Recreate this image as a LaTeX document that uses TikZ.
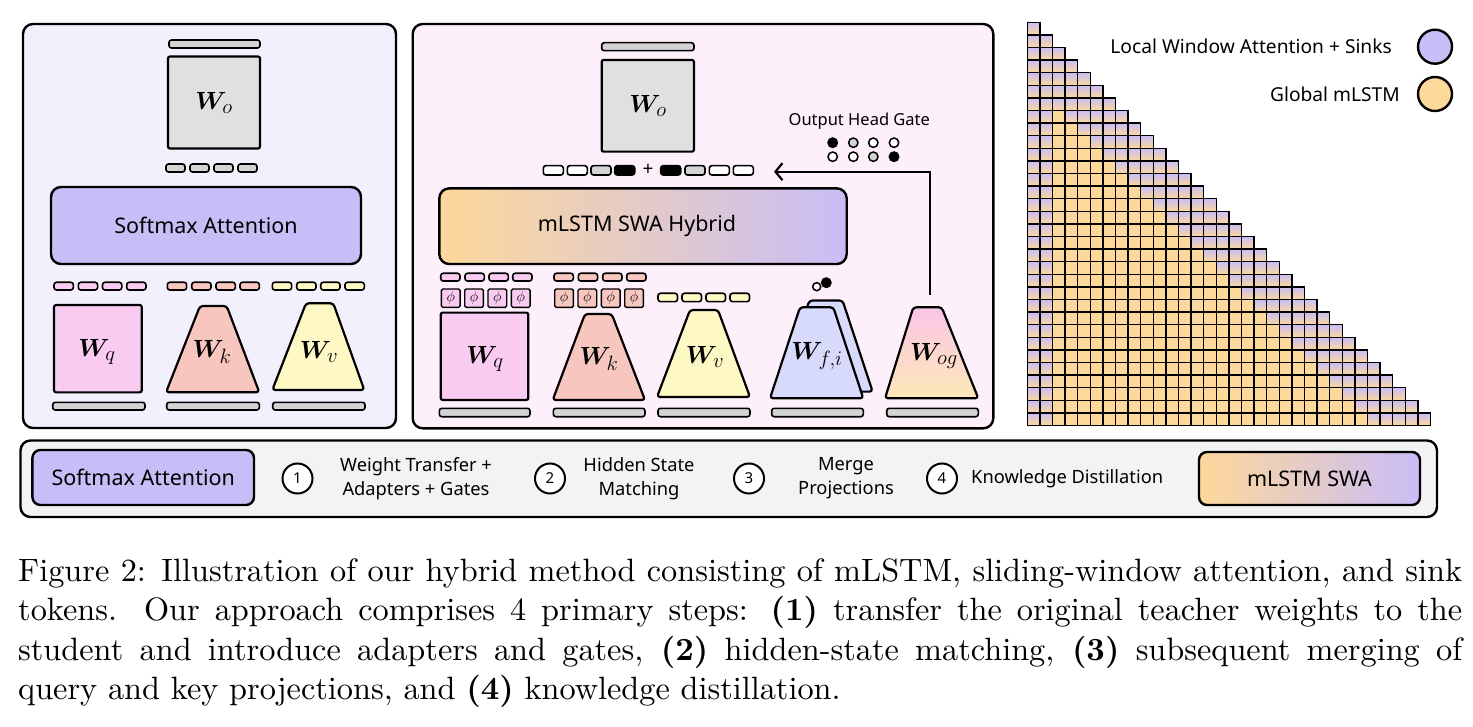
\documentclass[tikz,border=0pt]{standalone}
\usepackage{fontspec}
\usepackage{bm}
\usetikzlibrary{arrows.meta}
\newfontfamily\dsans{Noto Sans}
\newfontfamily\capfont{lmroman10-regular.otf}[BoldFont=lmroman10-bold.otf]
\definecolor{cpurple}{HTML}{C9BDF7}
\definecolor{corange}{HTML}{FDD89B}
\definecolor{cpink}{HTML}{F9CBF0}
\definecolor{csalmon}{HTML}{F7C6BE}
\definecolor{cyellow}{HTML}{FDF8C4}
\definecolor{cbar}{HTML}{D3D3D3}
\definecolor{cwo}{HTML}{E0E0E0}
\definecolor{cblue}{HTML}{D8DAFB}
\definecolor{cpanelL}{HTML}{F2F0FC}
\definecolor{cpanelM}{HTML}{FDF0FA}
\definecolor{cbottom}{HTML}{F3F3F3}
\definecolor{cogtop}{HTML}{FAC5E7}
\definecolor{cogbot}{HTML}{FDE8B7}
\newcommand{\trap}[7]{\draw[shp,#7] (#1,#3) -- (#2,#3) -- (#5,#6) -- (#4,#6) -- cycle;}
\begin{document}
\begin{tikzpicture}[x=1pt,y=-1pt,
  bar/.style={draw=black, line width=1.6pt, rounded corners=2.5pt},
  shp/.style={draw=black, line width=2.2pt, rounded corners=3pt, line join=round},
  panel/.style={draw=black, line width=2.4pt, rounded corners=10pt},
  cell/.style={draw=black, line width=1.5pt},
  wbox/.style={draw=black, line width=2.2pt, rounded corners=2pt, inner sep=0pt},
  lbl/.style={font=\dsans\fontsize{21.5}{26}\selectfont, inner sep=0pt},
  slbl/.style={font=\dsans\fontsize{18.3}{24}\selectfont, inner sep=0pt, align=center},
  wl/.style={font=\fontsize{24.88}{30}\selectfont, inner sep=0pt},
  phib/.style={draw=black, line width=1.4pt, rounded corners=1.5pt, inner sep=0pt, minimum width=18.7pt, minimum height=18.4pt, font=\fontsize{14}{16}\selectfont},
  num/.style={circle, draw=black, line width=2pt, fill=white, minimum size=30pt, inner sep=0pt, font=\dsans\bfseries\fontsize{15}{18}\selectfont},
  dot/.style={circle, draw=black, line width=1.5pt, minimum size=9.4pt, inner sep=0pt},
  captxt/.style={font=\capfont\fontsize{32.3}{39.5}\selectfont, inner sep=0pt, anchor=base west}
]
\path[use as bounding box] (0,0) rectangle (1473,727);

% ---------------- left panel ----------------
\draw[panel, fill=cpanelL] (23,24) rectangle (396,428);
\draw[bar, fill=cbar] (169,40) rectangle (260,48);
\node[wbox, fill=cwo, minimum width=92pt, minimum height=92pt] (woL) at (214,102.5) {};
\node[wl] (woLl) at (214,103) {$\bm{W}_{o}$};
\foreach \x in {166,190,214,238} \draw[bar, fill=cbar] (\x,164) rectangle ++(19,8);
\node[draw=black, line width=2.4pt, rounded corners=10pt, fill=cpurple, minimum width=310pt, minimum height=77pt, lbl] (saL) at (206,225.5) {Softmax Attention};
\foreach \x in {54,78.3,102.5,126.7} \draw[bar, fill=cpink] (\x,282.3) rectangle ++(19.3,7.7);
\foreach \x in {167.3,191.7,216,240} \draw[bar, fill=csalmon] (\x,282.3) rectangle ++(19.3,7.7);
\foreach \x in {272.3,296.7,320.7,345} \draw[bar, fill=cyellow] (\x,282.3) rectangle ++(19.3,7.7);
\node[wbox, fill=cpink, minimum width=87.7pt, minimum height=87.3pt] (wqL) at (97.9,348.7) {};
\trap{166}{259.3}{392.3}{200}{226.7}{306}{fill=csalmon}
\trap{272.3}{364.3}{390}{306}{333.3}{303.3}{fill=cyellow}
\node[wl] (wqLl) at (97,352) {$\bm{W}_{q}$};
\node[wl] (wkLl) at (212,352) {$\bm{W}_{k}$};
\node[wl] (wvLl) at (319,352) {$\bm{W}_{v}$};
\draw[bar, fill=cbar] (52.7,402.3) rectangle (145,410);
\draw[bar, fill=cbar] (166.7,402.3) rectangle (259.3,410);
\draw[bar, fill=cbar] (272.7,402.3) rectangle (365,410);

% ---------------- middle panel ----------------
\draw[panel, fill=cpanelM] (412.7,24) rectangle (993.3,428.3);
\draw[bar, fill=cbar] (601.7,42.7) rectangle (694,50.7);
\node[wbox, fill=cwo, minimum width=92.3pt, minimum height=91.7pt] (woM) at (647.8,105.8) {};
\node[wl] (woMl) at (648,106) {$\bm{W}_{o}$};
\draw[bar, fill=white] (543.3,165.7) rectangle ++(20,9.3);
\draw[bar, fill=white] (567.3,165.7) rectangle ++(20,9.3);
\draw[bar, fill=cbar] (591,165.7) rectangle ++(20,9.3);
\draw[bar, fill=black] (614.7,165.7) rectangle ++(20,9.3);
\node[font=\dsans\bfseries\fontsize{19}{20}\selectfont, inner sep=0pt] (plus) at (648,170.3) {+};
\draw[bar, fill=black] (660.7,165.7) rectangle ++(20,9.3);
\draw[bar, fill=cbar] (685,165.7) rectangle ++(20,9.3);
\draw[bar, fill=white] (709.3,165.7) rectangle ++(20,9.3);
\draw[bar, fill=white] (733.3,165.7) rectangle ++(20,9.3);
\node[draw=black, line width=2.4pt, rounded corners=10pt, left color=corange, right color=cpurple, minimum width=407.4pt, minimum height=75.7pt] (hyb) at (643,226.2) {};
\node[lbl] (hybl) at (637,226.2) {mLSTM SWA Hybrid};
\foreach \x in {440.7,465,489,512.7} \draw[bar, fill=cpink] (\x,273.3) rectangle ++(19.3,7.7);
\foreach \x in {554,578.3,602.7,626.7} \draw[bar, fill=csalmon] (\x,273.3) rectangle ++(19.3,7.7);
\foreach \x [count=\k] in {440.7,464,487.3,510.7} \node[phib, fill=cpink, anchor=north west] (phq\k) at (\x,288.3) {$\phi$};
\foreach \x [count=\k] in {554,577.3,600.7,624} \node[phib, fill=csalmon, anchor=north west] (phk\k) at (\x,288.3) {$\phi$};
\foreach \x in {658,682,706,730} \draw[bar, fill=cyellow] (\x,293.3) rectangle ++(19.5,8.4);
\node[wbox, fill=cpink, minimum width=87.6pt, minimum height=87.3pt] (wqM) at (484.5,356.3) {};
\trap{552.7}{645}{400}{585}{611.7}{314}{fill=csalmon}
\trap{657}{750}{397}{690}{718}{310}{fill=cyellow}
\trap{779.3}{872.6}{391.6}{809.3}{842.6}{300.6}{fill=cblue}
\trap{770}{863.3}{398.3}{800}{833.3}{307.3}{fill=cblue}
\trap{885}{978.3}{398.3}{913.3}{941.7}{307.3}{top color=cogtop, bottom color=cogbot}
\node[wl] (wqMl) at (485,359) {$\bm{W}_{q}$};
\node[wl] (wkMl) at (599,359) {$\bm{W}_{k}$};
\node[wl] (wvMl) at (705,357) {$\bm{W}_{v}$};
\node[wl] (wfMl) at (817,356) {$\bm{W}_{f,i}$};
\node[wl] (wogl) at (934,356) {$\bm{W}_{og}$};
\node[dot, fill=white, minimum size=8pt] (g1) at (816.7,286.7) {};
\node[dot, fill=black] (g2) at (826.3,282.7) {};
\foreach \x/\y in {439.3/530,553.3/645,658/750,771.7/863.3,886.7/978.3} \draw[bar, fill=cbar] (\x,408.3) rectangle (\y,416.7);
\node[font=\dsans\fontsize{16.5}{20}\selectfont, inner sep=0pt] (ohg) at (859.3,121.7) {Output Head Gate};
\node[dot, fill=black] (d11) at (832.7,142.7) {};
\node[dot, fill=cbar] (d12) at (853.3,142.7) {};
\node[dot, fill=white] (d13) at (873.3,142.7) {};
\node[dot, fill=white] (d14) at (894,142.7) {};
\node[dot, fill=white] (d21) at (832.7,156.7) {};
\node[dot, fill=white] (d22) at (853.3,156.7) {};
\node[dot, fill=cbar] (d23) at (873.3,156.7) {};
\node[dot, fill=black] (d24) at (894,156.7) {};
\coordinate (ogtop) at (930,295);
\coordinate (arrend) at (774,171.7);
\draw[line width=2.2pt, -{Straight Barb[length=7pt,width=17pt,line width=2.2pt]}] (ogtop) |- (arrend);

% ---------------- attention matrix ----------------
\foreach \i in {0,...,31}{
  \foreach \j in {0,...,\i}{
    \pgfmathtruncatemacro\dd{\i-\j}
    \pgfmathtruncatemacro\gg{or(\j<2,\dd<5)}
    \pgfmathsetmacro\cx{1027.3+\j*12.6}
    \pgfmathsetmacro\cy{22.3+\i*12.6}
    \ifnum\gg=1
      \draw[cell, top color=cpurple, bottom color=corange] (\cx,\cy) rectangle ++(12.6,12.6);
    \else
      \draw[cell, fill=corange] (\cx,\cy) rectangle ++(12.6,12.6);
    \fi
  }
}
\node[font=\dsans\fontsize{19.2}{22}\selectfont, inner sep=0pt, anchor=east] (lwa) at (1392,46.7) {Local Window Attention + Sinks};
\node[circle, draw=black, line width=2.4pt, fill=cpurple, minimum size=34pt, inner sep=0pt] (lwac) at (1435,46.7) {};
\node[font=\dsans\fontsize{19.2}{22}\selectfont, inner sep=0pt, anchor=east] (gm) at (1400,94) {Global mLSTM};
\node[circle, draw=black, line width=2.4pt, fill=corange, minimum size=34pt, inner sep=0pt] (gmc) at (1435,94) {};

% ---------------- bottom legend ----------------
\draw[panel, fill=cbottom] (20.5,440.5) rectangle (1437,517);
\node[draw=black, line width=2.4pt, rounded corners=8pt, fill=cpurple, minimum width=221.6pt, minimum height=55pt, lbl] (leg1) at (143.2,477.5) {Softmax Attention};
\node[num] (n1) at (297.5,478.5) {1};
\node[slbl] (t1) at (416,478.5) {Weight Transfer +\\Adapters + Gates};
\node[num] (n2) at (550,478.5) {2};
\node[slbl] (t2) at (639,478.5) {Hidden State\\Matching};
\node[num] (n3) at (749,478.5) {3};
\node[slbl] (t3) at (846,478.5) {Merge\\Projections};
\node[num] (n4) at (942,478.5) {4};
\node[slbl, anchor=west] (t4) at (971,478.5) {Knowledge Distillation};
\node[draw=black, line width=2.4pt, rounded corners=8pt, left color=corange, right color=cpurple, minimum width=221pt, minimum height=53pt, lbl] (leg2) at (1309.5,478.5) {mLSTM SWA};

% ---------------- caption ----------------
\node[captxt] (c1) at (18,581) {\makebox[1444pt][s]{Figure 2: Illustration of our hybrid method consisting of mLSTM, sliding-window attention, and sink}};
\node[captxt] (c2) at (18,620.5) {\makebox[1444pt][s]{tokens. Our approach comprises 4 primary steps: \textbf{(1)} transfer the original teacher weights to the}};
\node[captxt] (c3) at (18,660) {\makebox[1444pt][s]{student and introduce adapters and gates, \textbf{(2)} hidden-state matching, \textbf{(3)} subsequent merging of}};
\node[captxt] (c4) at (18,699) {query and key projections, and \textbf{(4)} knowledge distillation.};
\end{tikzpicture}
\end{document}
